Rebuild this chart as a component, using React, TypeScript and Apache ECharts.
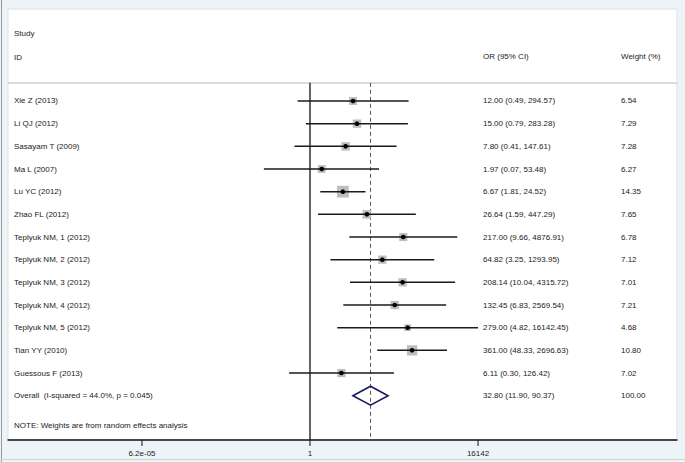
import React, { useEffect, useRef } from "react";
import * as echarts from "echarts";

const studies = [
  "Xie Z (2013)",
  "Li QJ (2012)",
  "Sasayam T (2009)",
  "Ma L (2007)",
  "Lu YC (2012)",
  "Zhao FL (2012)",
  "Teplyuk NM, 1 (2012)",
  "Teplyuk NM, 2 (2012)",
  "Teplyuk NM, 3 (2012)",
  "Teplyuk NM, 4 (2012)",
  "Teplyuk NM, 5 (2012)",
  "Tian YY (2010)",
  "Guessous F (2013)",
];
const oddsRatios = [12.0, 15.0, 7.8, 1.97, 6.67, 26.64, 217.0, 64.82, 208.14, 132.45, 279.0, 361.0, 6.11];
const lowerCI = [0.49, 0.79, 0.41, 0.07, 1.81, 1.59, 9.66, 3.25, 10.04, 6.83, 4.82, 48.33, 0.3];
const upperCI = [294.57, 283.28, 147.61, 53.48, 24.52, 447.29, 4876.91, 1293.95, 4315.72, 2569.54, 16142.45, 2696.63, 126.42];
const weights = [6.54, 7.29, 7.28, 6.27, 14.35, 7.65, 6.78, 7.12, 7.01, 7.21, 4.68, 10.8, 7.02];

const overallLabel = "Overall  (I-squared = 44.0%, p = 0.045)";
const overallOR = [32.8];
const overallLower = [11.9];
const overallUpper = [90.37];
const overallWeight = [100.0];

const tickValues = [6.2e-5, 1, 16142];
const tickLabels = ["6.2e-05", "1", "16142"];

const headerStudy = "Study";
const headerID = "ID";
const headerOR = "OR (95% CI)";
const headerWeight = "Weight (%)";
const noteText = "NOTE: Weights are from random effects analysis";

const FONT = '8px "Liberation Sans", Arial, sans-serif';
const TXT = "#222222";
const LABEL_X = 14;
const OR_X = 483;
const W_X = 621;

export default function App() {
  const ref = useRef<HTMLDivElement>(null);
  useEffect(() => {
    if (!ref.current) return;
    const chart = echarts.init(ref.current, undefined, { renderer: "svg" });

    const studyData = studies.map((s, i) => [oddsRatios[i], i, lowerCI[i], upperCI[i], weights[i]]);
    const nRows = studies.length;
    const overallRow = nRows;
    const yMin = -4.058;
    const yMax = 14.954;
    const lineTop = -0.8;

    const option: any = {
      animation: false,
      backgroundColor: "#edf4f7",
      grid: { left: 8, right: 8, top: 9, bottom: 22, containLabel: false },
      xAxis: {
        type: "log",
        logBase: 10,
        min: Math.pow(10, -7.563),
        max: Math.pow(10, 9.191),
        position: "bottom",
        axisLine: { show: true, onZero: false, lineStyle: { color: "#111", width: 1.5 } },
        axisTick: { show: false },
        axisLabel: { show: false },
        splitLine: { show: false },
      },
      yAxis: {
        type: "value",
        inverse: true,
        min: yMin,
        max: yMax,
        show: false,
        splitLine: { show: false },
      },
      graphic: [
        { type: "rect", z: -100, shape: { x: 8, y: 9, width: 669, height: 431 }, style: { fill: "#ffffff", stroke: "#d9e2e6", lineWidth: 1 } },
        { type: "line", z: -90, shape: { x1: 1.5, y1: 0, x2: 1.5, y2: 462 }, style: { stroke: "#9a9a9a", lineWidth: 1 } },
        { type: "line", z: -90, shape: { x1: 0, y1: 459.5, x2: 685, y2: 459.5 }, style: { stroke: "#cdd6da", lineWidth: 1 } },
        { type: "line", z: -90, shape: { x1: 8, y1: 83, x2: 677, y2: 83 }, style: { stroke: "#cfcfcf", lineWidth: 1.5 } },
        { type: "text", style: { text: headerStudy, x: LABEL_X, y: 33, font: FONT, fill: TXT, verticalAlign: "middle" } },
        { type: "text", style: { text: headerID, x: LABEL_X, y: 57, font: FONT, fill: TXT, verticalAlign: "middle" } },
        { type: "text", style: { text: headerOR, x: OR_X, y: 56, font: FONT, fill: TXT, verticalAlign: "middle" } },
        { type: "text", style: { text: headerWeight, x: W_X, y: 56, font: FONT, fill: TXT, verticalAlign: "middle" } },
        { type: "text", style: { text: noteText, x: LABEL_X, y: 425, font: FONT, fill: TXT, verticalAlign: "middle" } },
      ],
      series: [
        {
          type: "custom",
          name: "reflines",
          clip: false,
          z: 1,
          data: [[1, 0], [overallOR[0], 1]],
          renderItem: (params: any, api: any) => {
            const v = api.value(0);
            const top = api.coord([v, lineTop]);
            const bot = api.coord([v, yMax]);
            const dashed = api.value(1) === 1;
            return {
              type: "line",
              shape: { x1: top[0], y1: top[1], x2: bot[0], y2: bot[1] },
              style: {
                stroke: dashed ? "#555" : "#111",
                lineWidth: dashed ? 1 : 1.3,
                lineDash: dashed ? [4, 3] : null,
              },
            };
          },
        },
        {
          type: "custom",
          name: "studies",
          clip: false,
          z: 3,
          data: studyData,
          encode: { x: 0, y: 1 },
          renderItem: (params: any, api: any) => {
            const i = params.dataIndex;
            const row = api.value(1);
            const c = api.coord([api.value(0), row]);
            const lo = api.coord([api.value(2), row]);
            const hi = api.coord([api.value(3), row]);
            const side = 3.1 * Math.sqrt(api.value(4));
            const ciText =
              oddsRatios[i].toFixed(2) + " (" + lowerCI[i].toFixed(2) + ", " + upperCI[i].toFixed(2) + ")";
            return {
              type: "group",
              children: [
                { type: "rect", shape: { x: c[0] - side / 2, y: c[1] - side / 2, width: side, height: side }, style: { fill: "#bdbdbd" } },
                { type: "line", shape: { x1: lo[0], y1: c[1], x2: hi[0], y2: c[1] }, style: { stroke: "#1a1a1a", lineWidth: 1.5 } },
                { type: "circle", shape: { cx: c[0], cy: c[1], r: 2.3 }, style: { fill: "#000" } },
                { type: "text", style: { text: studies[i], x: LABEL_X, y: c[1], font: FONT, fill: TXT, verticalAlign: "middle" } },
                { type: "text", style: { text: ciText, x: OR_X, y: c[1], font: FONT, fill: TXT, verticalAlign: "middle" } },
                { type: "text", style: { text: weights[i].toFixed(2), x: W_X, y: c[1], font: FONT, fill: TXT, verticalAlign: "middle" } },
              ],
            };
          },
        },
        {
          type: "custom",
          name: "overall",
          clip: false,
          z: 3,
          data: [[overallOR[0], overallRow, overallLower[0], overallUpper[0], overallWeight[0]]],
          encode: { x: 0, y: 1 },
          renderItem: (params: any, api: any) => {
            const row = api.value(1);
            const c = api.coord([api.value(0), row]);
            const lo = api.coord([api.value(2), row]);
            const hi = api.coord([api.value(3), row]);
            const h = 9.5;
            const ciText =
              overallOR[0].toFixed(2) + " (" + overallLower[0].toFixed(2) + ", " + overallUpper[0].toFixed(2) + ")";
            return {
              type: "group",
              children: [
                {
                  type: "polygon",
                  shape: { points: [[lo[0], c[1]], [c[0], c[1] - h], [hi[0], c[1]], [c[0], c[1] + h]] },
                  style: { fill: "rgba(255,255,255,0)", stroke: "#1b1b5e", lineWidth: 1.6 },
                },
                { type: "text", style: { text: overallLabel, x: LABEL_X, y: c[1], font: FONT, fill: TXT, verticalAlign: "middle" } },
                { type: "text", style: { text: ciText, x: OR_X, y: c[1], font: FONT, fill: TXT, verticalAlign: "middle" } },
                { type: "text", style: { text: overallWeight[0].toFixed(2), x: W_X, y: c[1], font: FONT, fill: TXT, verticalAlign: "middle" } },
              ],
            };
          },
        },
        {
          type: "custom",
          name: "ticks",
          clip: false,
          z: 3,
          data: tickValues.map((v, i) => [v, i]),
          renderItem: (params: any, api: any) => {
            const i = params.dataIndex;
            const p = api.coord([api.value(0), yMax]);
            return {
              type: "group",
              children: [
                { type: "line", shape: { x1: p[0], y1: p[1], x2: p[0], y2: p[1] + 6 }, style: { stroke: "#111", lineWidth: 1 } },
                { type: "text", style: { text: tickLabels[i], x: p[0], y: p[1] + 13, font: FONT, fill: TXT, align: "center", verticalAlign: "middle" } },
              ],
            };
          },
        },
      ],
    };
    chart.setOption(option);
    return () => chart.dispose();
  }, []);
  return <div ref={ref} style={{ position: "fixed", left: 0, top: 0, width: 685, height: 462 }} />;
}
